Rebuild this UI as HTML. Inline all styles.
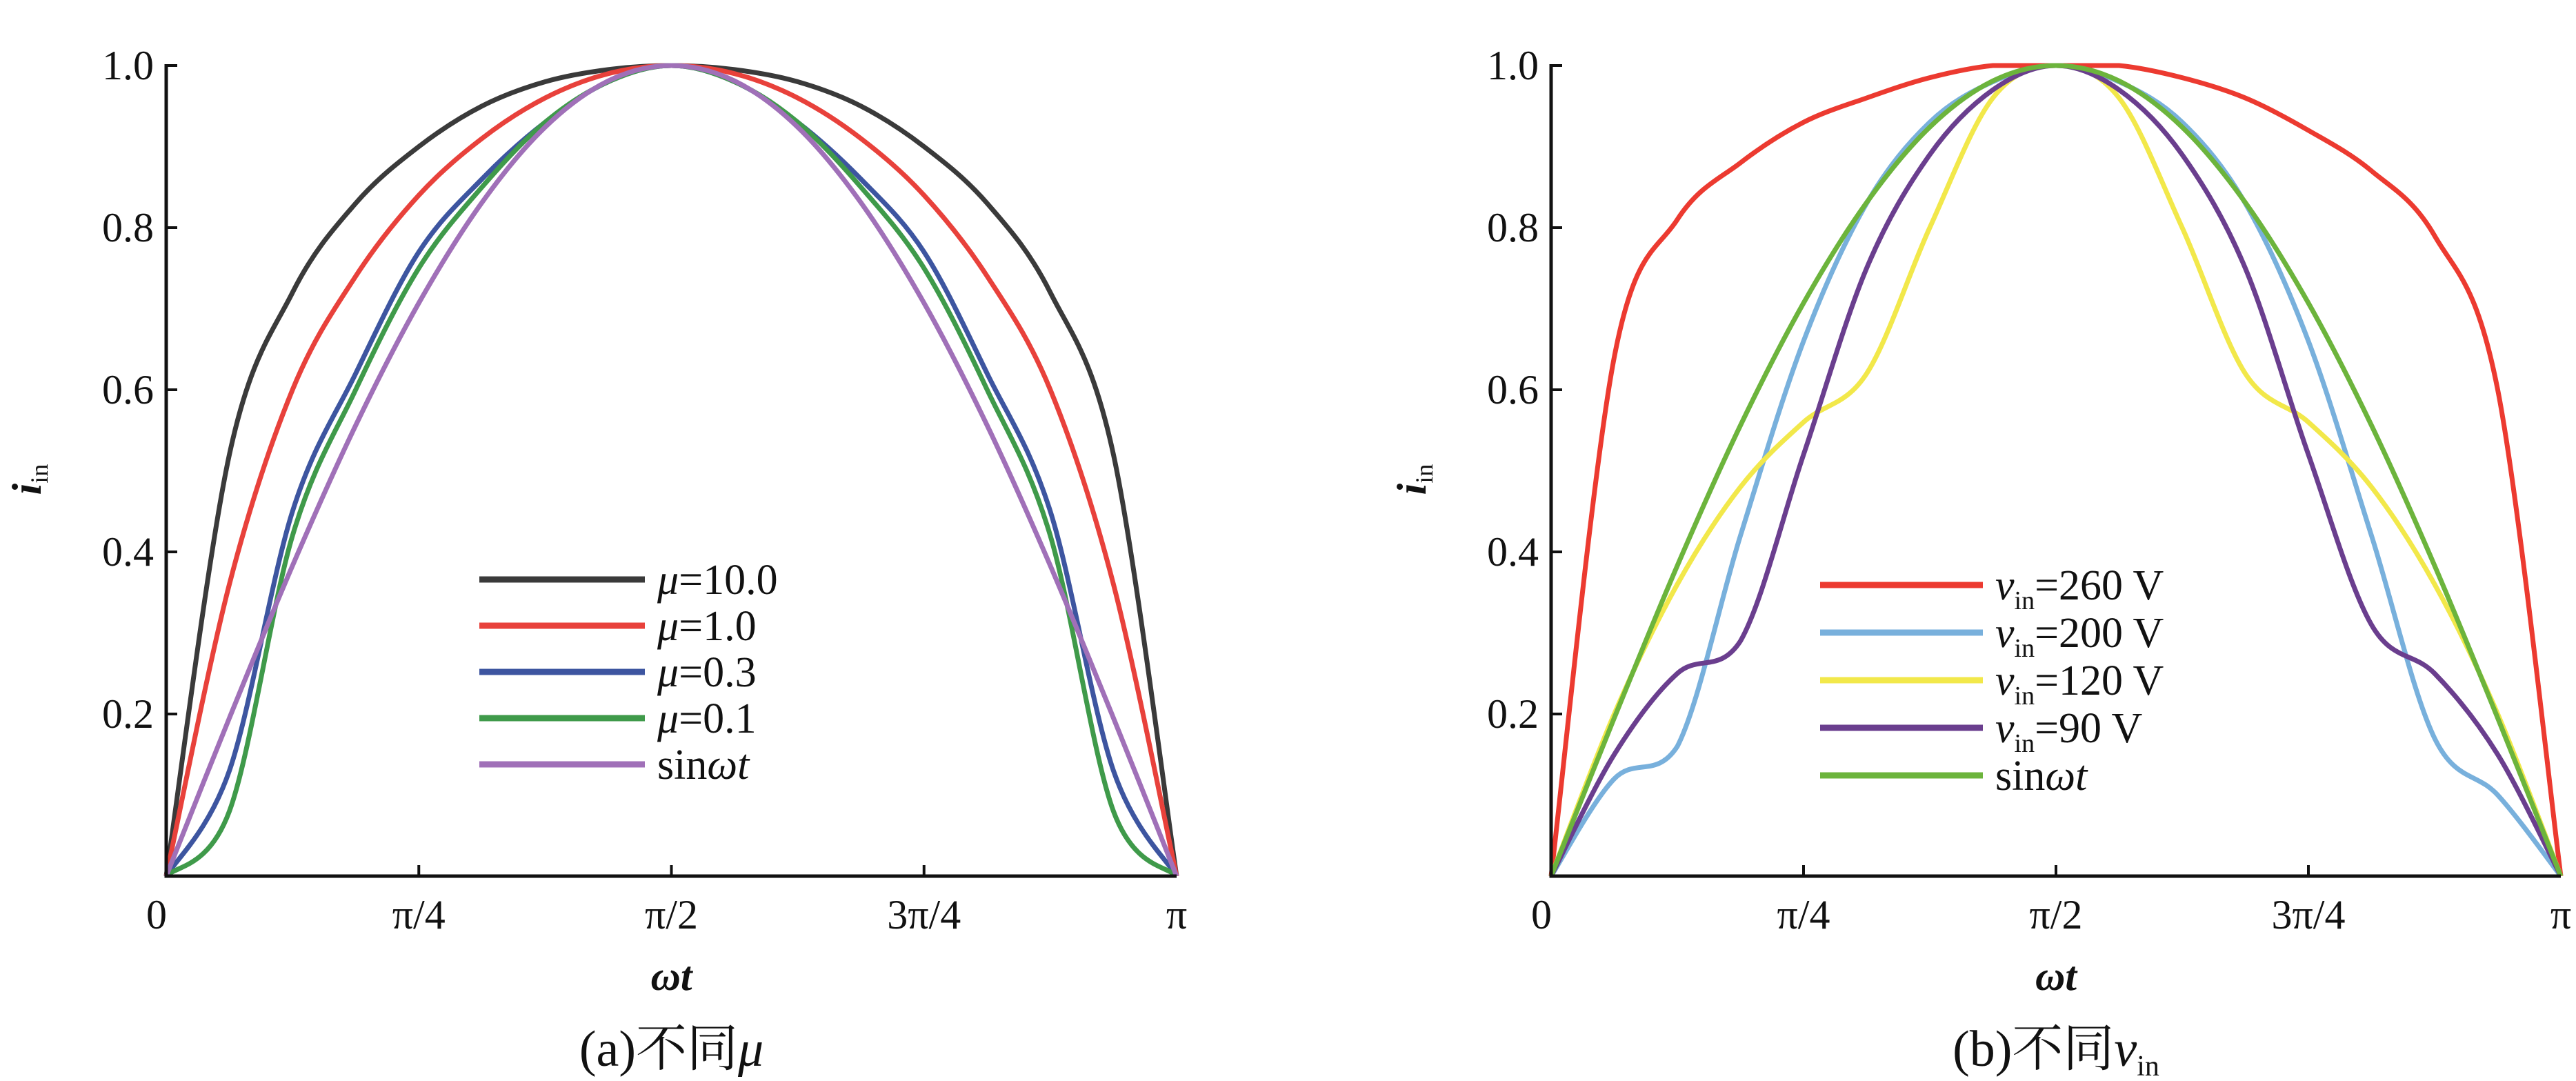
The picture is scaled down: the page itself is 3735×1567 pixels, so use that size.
<!DOCTYPE html>
<html><head><meta charset="utf-8"><style>
body{margin:0;background:#fff}
svg{display:block}
text{font-family:"Liberation Serif","Noto Serif CJK SC",serif;fill:#111}
</style></head><body>
<svg id="fig" width="3735" height="1567" viewBox="0 0 3735 1567"></svg>
<script>
const xFrac = [0,1,2,3,4,5,6,7,8,9,10,11,12,13,14,15,16];
const yTicks = [0.2,0.4,0.6,0.8,1.0];
const yTickLabels = ["0.2","0.4","0.6","0.8","1.0"];
const xTicks = [0,4,8,12,16];
const xTickLabels = ["0","π/4","π/2","3π/4","π"];
// panel a
const aMu10 = [0,.52,.72,.83,.9,.95,.98,.995,1,.995,.98,.95,.9,.83,.72,.52,0];
const aMu1 = [0,.36,.6,.74,.84,.91,.96,.99,1,.99,.96,.91,.84,.74,.6,.36,0];
const aMu03 = [0,.13,.45,.62,.77,.86,.93,.98,1,.98,.93,.86,.77,.62,.45,.13,0];
const aMu01 = [0,.08,.42,.6,.75,.85,.93,.98,1,.98,.93,.85,.75,.6,.42,.08,0];
const aSin = [0,.195,.383,.556,.707,.831,.924,.981,1,.981,.924,.831,.707,.556,.383,.195,0];
// panel b
const b260 = [0,.64,.81,.88,.93,.96,.985,1,1,1,.985,.96,.92,.87,.79,.6,0];
const b200 = [0,.12,.16,.42,.66,.83,.93,.98,1,.98,.93,.83,.66,.42,.17,.1,0];
const b120 = [0,.2,.36,.48,.56,.62,.8,.96,1,.96,.8,.62,.56,.48,.36,.2,0];
const b90 = [0,.15,.25,.29,.52,.75,.89,.97,1,.97,.89,.75,.52,.31,.25,.15,0];
const bSin = [0,.195,.383,.556,.707,.831,.924,.981,1,.981,.924,.831,.707,.556,.383,.195,0];

const NS="http://www.w3.org/2000/svg";
const svg=document.getElementById('fig');
function el(t,a,p){const e=document.createElementNS(NS,t);for(const k in a)e.setAttribute(k,a[k]);(p||svg).appendChild(e);return e;}

function panel(cfg){
  const g=el('g',{});
  
  
  const X=v=>cfg.x0+(cfg.x1-cfg.x0)*v/16;
  const Y=v=>cfg.y0+(cfg.y1-cfg.y0)*v;
  cfg.series.forEach(s=>{
    const pts=xFrac.map((f,i)=>[X(f),Y(s.data[i])]);
    let d='M'+pts[0][0]+','+pts[0][1];
    for(let i=0;i<pts.length-1;i++){
      const p0=pts[Math.max(0,i-1)],p1=pts[i],p2=pts[i+1],p3=pts[Math.min(pts.length-1,i+2)];
      let c1y=p1[1]+(p2[1]-p0[1])/6, c2y=p2[1]-(p3[1]-p1[1])/6;
      const lo=Math.min(p1[1],p2[1]),hi=Math.max(p1[1],p2[1]);
      c1y=Math.min(hi,Math.max(lo,c1y));c2y=Math.min(hi,Math.max(lo,c2y));
      d+=' C'+(p1[0]+(p2[0]-p0[0])/6)+','+c1y+' '+(p2[0]-(p3[0]-p1[0])/6)+','+c2y+' '+p2[0]+','+p2[1];
    }
    const p=el('path',{d:d,fill:'none',stroke:s.color,'stroke-width':7,'stroke-linejoin':'round'},g);
    
    
  });
  const ax=el('path',{d:`M${cfg.x0},${cfg.y1-2} V${cfg.y0} H${cfg.x1}`,fill:'none',stroke:'#111','stroke-width':5},g);
  
  
  yTicks.forEach((v,i)=>{
    el('line',{x1:cfg.x0,x2:cfg.x0+16,y1:Y(v),y2:Y(v),stroke:'#111','stroke-width':4},g);
    const t=el('text',{x:cfg.x0-18,y:Y(v)+20,'text-anchor':'end','font-size':60},g);
    t.textContent=yTickLabels[i];
    
    
  });
  xTicks.forEach((f,i)=>{
    if(i>0&&i<4) el('line',{x1:X(f),x2:X(f),y1:cfg.y0,y2:cfg.y0-16,stroke:'#111','stroke-width':4},g);
    const t=el('text',{x:i==0?X(f)-14:X(f),y:cfg.y0+76,'text-anchor':'middle','font-size':60},g);
    t.textContent=xTickLabels[i];
    
    
  });
  const xt=el('text',{x:(cfg.x0+cfg.x1)/2,y:1435,'text-anchor':'middle','font-size':60,'font-style':'italic','font-weight':'bold'},g);
  xt.textContent='ωt';
  
  
  const yt=el('text',{transform:`translate(${cfg.x0-182},695) rotate(-90)`,'text-anchor':'middle','font-size':60},g);
  yt.innerHTML='<tspan font-style="italic" font-weight="bold">i</tspan><tspan font-size="36" dy="10">in</tspan>';
  
  
  cfg.series.forEach((s,i)=>{
    const ly=cfg.ly+i*cfg.lstep;
    const lg=el('g',{},g);
    
    
    el('line',{x1:cfg.lx,x2:cfg.lx+cfg.lw,y1:ly,y2:ly,stroke:s.color,'stroke-width':9},lg);
    const t=el('text',{x:cfg.lx+cfg.lw+18,y:ly+21,'font-size':62},lg);
    t.innerHTML=s.label;
  });
  const cap=el('text',{x:(cfg.x0+cfg.x1)/2,y:1545,'text-anchor':'middle','font-size':74},g);
  cap.innerHTML=cfg.caption;
  
  
}
const mu='<tspan font-style="italic">μ</tspan>';
const vin='<tspan font-style="italic">v</tspan><tspan font-size="38" dy="14">in</tspan><tspan dy="-14">';
panel({name:'panel-a',x0:241,x1:1706,y0:1270,y1:95,lx:695,lw:240,ly:840,lstep:67,
 caption:'(a)不同<tspan font-style="italic">μ</tspan>',
 series:[
  {id:'mu-10',color:'#3a3a3a',data:aMu10,label:mu+'=10.0'},
  {id:'mu-1',color:'#e8413b',data:aMu1,label:mu+'=1.0'},
  {id:'mu-0-3',color:'#3d55a0',data:aMu03,label:mu+'=0.3'},
  {id:'mu-0-1',color:'#3f9a4a',data:aMu01,label:mu+'=0.1'},
  {id:'sin-a',color:'#a070b8',data:aSin,label:'sin<tspan font-style="italic">ωt</tspan>'}]});
panel({name:'panel-b',x0:2249,x1:3713,y0:1270,y1:95,lx:2639,lw:236,ly:848,lstep:69,
 caption:'(b)不同<tspan font-style="italic">v</tspan><tspan font-size="42" dy="14">in</tspan>',
 series:[
  {id:'v-260',color:'#ec3a30',data:b260,label:vin+'=260 V</tspan>'},
  {id:'v-200',color:'#78b0dc',data:b200,label:vin+'=200 V</tspan>'},
  {id:'v-120',color:'#f2e84a',data:b120,label:vin+'=120 V</tspan>'},
  {id:'v-90',color:'#6a3e8e',data:b90,label:vin+'=90 V</tspan>'},
  {id:'sin-b',color:'#6cb43c',data:bSin,label:'sin<tspan font-style="italic">ωt</tspan>'}]});
</script>
</body></html>
